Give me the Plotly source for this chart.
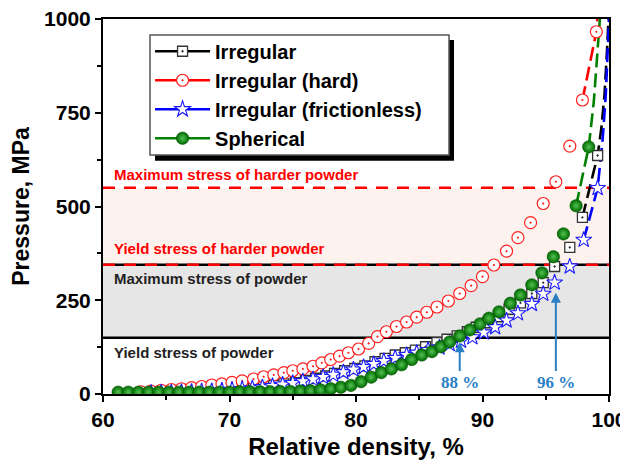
import plotly.graph_objects as go

# ---------------- data ----------------
dens_irr = [63.1, 63.9, 64.7, 65.5, 66.3, 67.1, 67.9, 68.7, 69.5, 70.3, 71.1, 71.9, 72.7, 73.5, 74.3,
            75.2, 76.0, 76.8, 77.6, 78.3, 79.1, 79.9, 80.7, 81.5, 82.3, 83.1, 83.9, 84.7, 85.5, 86.4,
            87.2, 88.0, 88.8, 89.5, 90.4, 91.3, 92.1, 93.0, 93.9, 94.8, 95.7, 96.9, 97.9, 99.1]
p_irr = [3, 4, 4, 5, 6, 7, 8, 9, 11, 13, 15, 17, 20, 23, 27,
         30, 36, 42, 48, 55, 62, 68, 75, 86, 95, 104, 110, 117, 126, 137,
         146, 155, 166, 178, 190, 206, 226, 243, 268, 297, 340, 391, 471, 636]
irr_tail_x = [99.4, 99.65, 99.85, 99.97]
irr_tail_y = [710, 800, 920, 1010]

dens_hard = [63.0, 63.8, 64.6, 65.4, 66.2, 67.0, 67.8, 68.6, 69.4, 70.2, 71.0, 71.9, 72.7, 73.5, 74.3,
             75.0, 75.8, 76.6, 77.3, 78.0, 78.7, 79.4, 80.2, 81.0, 81.7, 82.4, 83.2, 84.0, 84.8, 85.6,
             86.4, 87.3, 88.2, 89.1, 90.0, 90.9, 91.9, 92.8, 93.8, 94.8, 95.8, 96.9, 97.9, 99.0]
p_hard = [6, 8, 10, 12, 14, 17, 20, 24, 27, 31, 35, 40, 46, 51, 57,
          62, 67, 74, 83, 92, 101, 110, 120, 135, 153, 166, 180, 192, 205, 218,
          232, 248, 268, 289, 313, 344, 381, 417, 457, 508, 566, 661, 784, 966]
hard_tail_x = [99.3]
hard_tail_y = [1100]

dens_fric = [63.8, 64.6, 65.4, 66.2, 67.0, 67.8, 68.6, 69.4, 70.2, 71.0, 71.8, 72.6, 73.4, 74.2,
             75.0, 75.8, 76.6, 77.4, 78.2, 79.0, 79.8, 80.6, 81.4, 82.2, 83.1, 84.0, 84.8, 85.7,
             86.6, 87.4, 88.3, 89.2, 90.1, 91.0, 91.9, 92.8, 93.9, 94.8, 95.7, 96.9, 98.0, 99.1]
p_fric = [3, 4, 4, 5, 6, 7, 8, 9, 11, 13, 15, 18, 21, 25,
          29, 34, 39, 45, 51, 58, 65, 72, 80, 88, 96, 104, 110, 117,
          124, 133, 142, 151, 164, 178, 196, 215, 240, 267, 297, 340, 411, 549]
fric_tail_x = [99.5, 99.75, 99.95, 100.05]
fric_tail_y = [680, 800, 960, 1050]

dens_sph = [61.2, 62.0, 62.8, 63.6, 64.4, 65.2, 66.0, 66.8, 67.6, 68.4, 69.2, 70.0, 70.8, 71.6, 72.4,
            73.2, 74.0, 74.8, 75.6, 76.4, 77.2, 78.0, 78.8, 79.6, 80.4, 81.2, 82.0, 82.8, 83.6, 84.4,
            85.2, 86.0, 86.7, 87.4, 88.2, 89.0, 89.8, 90.5, 91.3, 92.2, 93.0, 93.9, 94.7, 95.6, 96.4,
            97.4, 98.4]
p_sph = [5, 5, 5, 5, 5, 5, 5, 5, 5, 5, 5, 5, 6, 6, 6,
         6, 7, 7, 8, 9, 11, 14, 18, 23, 33, 45, 57, 67, 78, 92,
         104, 113, 126, 139, 155, 171, 187, 202, 219, 242, 264, 291, 323, 366, 427,
         502, 659]
sph_tail_x = [98.8, 99.05, 99.3]
sph_tail_y = [780, 900, 1010]

series_names = ["Irregular", "Irregular (hard)", "Irregular (frictionless)", "Spherical"]

yield_powder = 150
max_powder = 345
yield_hard = 345
max_hard = 550

band_labels = ["Maximum stress of harder powder", "Yield stress of harder powder",
               "Maximum stress of powder", "Yield stress of powder"]
arrow_dens = [88.2, 95.8]
arrow_p = [138, 270]
arrow_labels = ["88 %", "96 %"]

# ---------------- figure ----------------
fig = go.Figure()
FONT = "Arial, Liberation Sans, sans-serif"

styles = [
    dict(x=dens_irr, y=p_irr, tx=irr_tail_x, ty=irr_tail_y, color="#000000",
         marker=dict(symbol="square-dot", size=10, color="white", line=dict(color="#333333", width=1.3)), n=2),
    dict(x=dens_hard, y=p_hard, tx=hard_tail_x, ty=hard_tail_y, color="#ff0000",
         marker=dict(symbol="circle-dot", size=12, color="white", line=dict(color="#ff2020", width=1.2)), n=2),
    dict(x=dens_fric, y=p_fric, tx=fric_tail_x, ty=fric_tail_y, color="#0000ff",
         marker=dict(symbol="star", size=12, color="white", line=dict(color="#1a1aff", width=1.1)), n=2),
    dict(x=dens_sph, y=p_sph, tx=sph_tail_x, ty=sph_tail_y, color="#008000",
         marker=dict(symbol="circle", size=12.5, color="#006a00",
                     gradient=dict(type="radial", color="#52c252"), line=dict(color="#005000", width=0.5)), n=2),
]

# dashed continuation lines (drawn beneath markers)
for s in styles:
    fig.add_trace(go.Scatter(x=s["x"][-s["n"]:] + s["tx"], y=s["y"][-s["n"]:] + s["ty"], mode="lines",
                             line=dict(color=s["color"], width=2.6, dash="14px,6px"),
                             showlegend=False, hoverinfo="skip"))
# markers
for s, name in zip(styles, series_names):
    fig.add_trace(go.Scatter(x=s["x"], y=s["y"], mode="markers", marker=s["marker"],
                             showlegend=False, name=name))
# legend entries
for s, name in zip(styles, series_names):
    fig.add_trace(go.Scatter(x=[None], y=[None], mode="lines+markers", name=name,
                             line=dict(color=s["color"], width=2.6), marker=s["marker"]))

shapes = [
    dict(type="rect", xref="paper", yref="y", x0=0, x1=1, y0=yield_powder, y1=max_powder,
         fillcolor="#e6e6e6", line=dict(width=0), layer="below"),
    dict(type="rect", xref="paper", yref="y", x0=0, x1=1, y0=yield_hard, y1=max_hard,
         fillcolor="#fdf2ee", line=dict(width=0), layer="below"),
    dict(type="line", xref="paper", yref="y", x0=0, x1=1, y0=yield_powder, y1=yield_powder,
         line=dict(color="black", width=2.5), layer="below"),
    dict(type="line", xref="paper", yref="y", x0=0, x1=1, y0=max_powder, y1=max_powder,
         line=dict(color="black", width=2.5), layer="below"),
    dict(type="line", xref="paper", yref="y", x0=0, x1=1, y0=yield_hard, y1=yield_hard,
         line=dict(color="#ff0000", width=2.5, dash="12px,9px"), layer="below"),
    dict(type="line", xref="paper", yref="y", x0=0, x1=1, y0=max_hard, y1=max_hard,
         line=dict(color="#ff0000", width=2.5, dash="12px,9px"), layer="below"),
    # legend frame: shadow then white box
    dict(type="rect", xref="paper", yref="paper", x0=0.1028, x1=0.6937, y0=0.622, y1=0.944,
         fillcolor="black", line=dict(width=0), layer="above"),
    dict(type="rect", xref="paper", yref="paper", x0=0.0929, x1=0.6838, y0=0.6373, y1=0.9573,
         fillcolor="white", line=dict(color="#555555", width=1.5), layer="above"),
]

annotations = [
    dict(x=60.7, y=max_hard + 35, text=band_labels[0], font=dict(color="#ff0000")),
    dict(x=60.7, y=yield_hard + 42, text=band_labels[1], font=dict(color="#ff0000")),
    dict(x=60.7, y=max_powder - 36, text=band_labels[2], font=dict(color="#222222")),
    dict(x=60.7, y=yield_powder - 38, text=band_labels[3], font=dict(color="#222222")),
]
for a in annotations:
    a.update(xref="x", yref="y", xanchor="left", yanchor="middle", showarrow=False)
    a["font"].update(family=FONT, size=15, weight="bold")

for xd, yd, lab in zip(arrow_dens, arrow_p, arrow_labels):
    annotations.append(dict(x=xd, y=yd, ax=xd, ay=32, xref="x", yref="y", axref="x", ayref="y",
                            text=lab, showarrow=True, arrowhead=2, arrowsize=1, arrowwidth=2,
                            arrowcolor="#2a7fc4", standoff=0, startstandoff=0,
                            font=dict(family="Liberation Serif, Times New Roman, serif", size=17,
                                      color="#2a7fc4", weight="bold")))

fig.update_layout(
    width=628, height=472,
    margin=dict(l=95, r=27, t=11, b=86),
    paper_bgcolor="white", plot_bgcolor="white",
    font=dict(family=FONT, color="black"),
    shapes=shapes, annotations=annotations,
    legend=dict(x=0.093, y=0.966, xanchor="left", yanchor="top",
                bgcolor="rgba(0,0,0,0)", borderwidth=0,
                font=dict(family=FONT, size=20, weight="bold", color="black"),
                itemwidth=55, tracegroupgap=0),
    xaxis=dict(range=[60, 100], dtick=10, tick0=60, showline=True, linecolor="black", linewidth=2,
               mirror=True, ticks="outside", ticklen=6, tickwidth=2, tickcolor="black",
               showgrid=False, zeroline=False, automargin=False, ticklabeloverflow="allow",
               minor=dict(dtick=5, ticks="outside", ticklen=4, tickwidth=2, tickcolor="black"),
               tickfont=dict(family=FONT, size=21, weight="bold"),
               title=dict(text="Relative density, %", font=dict(family=FONT, size=24, weight="bold"),
                          standoff=8)),
    yaxis=dict(range=[0, 1000], dtick=250, showline=True, linecolor="black", linewidth=2,
               mirror=True, ticks="outside", ticklen=6, tickwidth=2, tickcolor="black",
               showgrid=False, zeroline=False, automargin=False, ticklabeloverflow="allow",
               minor=dict(dtick=125, ticks="outside", ticklen=4, tickwidth=2, tickcolor="black"),
               tickfont=dict(family=FONT, size=21, weight="bold"),
               title=dict(text="Pressure, MPa", font=dict(family=FONT, size=23, weight="bold"),
                          standoff=12)),
)

fig.write_html("out.html")
